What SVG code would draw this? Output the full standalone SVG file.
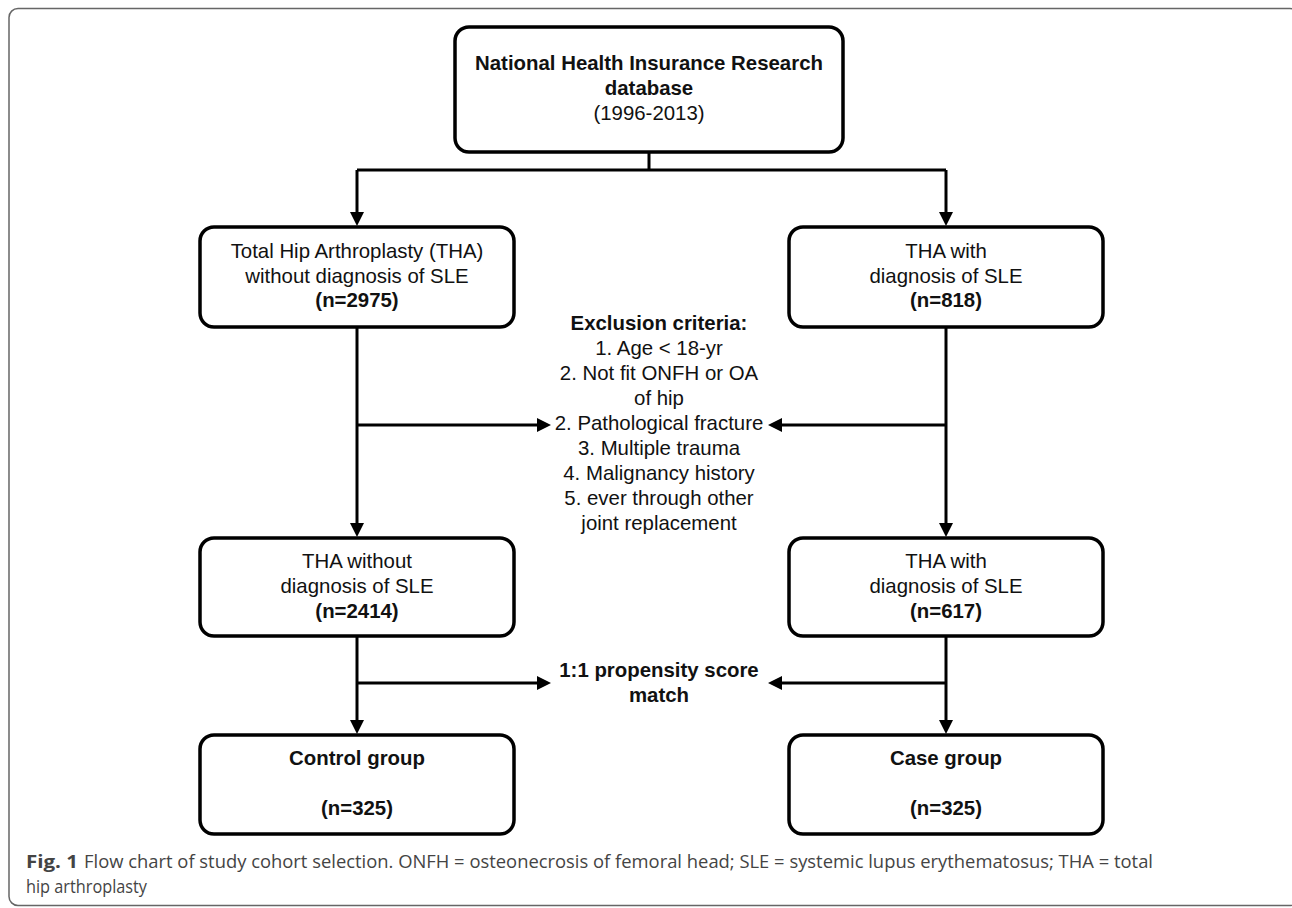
<svg xmlns="http://www.w3.org/2000/svg" width="1292" height="908" viewBox="0 0 1292 908">
<style>
.box{fill:#fff;stroke:#000;stroke-width:3.5}
.t{font-family:"Liberation Sans",Arial,sans-serif;font-size:20.4px;fill:#111;text-anchor:middle}
.b{font-weight:bold}
.con{fill:none;stroke:#000;stroke-width:3}
.cap{font-family:"Open Sans","Liberation Sans",sans-serif;font-size:18.5px;fill:#444}
</style>
<defs>
<marker id="ah" markerUnits="userSpaceOnUse" markerWidth="15" markerHeight="14" refX="0" refY="7" orient="auto">
<path d="M0,0 L14,7 L0,14 z" fill="#000"/>
</marker>
</defs>
<rect x="9" y="8.5" width="1290" height="897" rx="9" fill="none" stroke="#666" stroke-width="1.5"/>
<g id="connectors">
<path class="con" d="M649,152 V170 M357,170 H946"/>
<path class="con" d="M357,170 V212" marker-end="url(#ah)"/>
<path class="con" d="M946,170 V212" marker-end="url(#ah)"/>
<path class="con" d="M357,327 V523" marker-end="url(#ah)"/>
<path class="con" d="M946,327 V523" marker-end="url(#ah)"/>
<path class="con" d="M357,425 H537" marker-end="url(#ah)"/>
<path class="con" d="M946,425 H782" marker-end="url(#ah)"/>
<path class="con" d="M357,636 V720" marker-end="url(#ah)"/>
<path class="con" d="M946,636 V720" marker-end="url(#ah)"/>
<path class="con" d="M357,683 H537" marker-end="url(#ah)"/>
<path class="con" d="M946,683 H782" marker-end="url(#ah)"/>
</g>
<g id="nhird">
<rect class="box" x="455" y="27" width="388" height="125" rx="14"/>
<text class="t b" x="649" y="70">National Health Insurance Research</text>
<text class="t b" x="649" y="95">database</text>
<text class="t" x="649" y="120">(1996-2013)</text>
</g>
<g id="tha_no_sle">
<rect class="box" x="200" y="227" width="314" height="100" rx="14"/>
<text class="t" x="357" y="258">Total Hip Arthroplasty (THA)</text>
<text class="t" x="357" y="283">without diagnosis of SLE</text>
<text class="t b" x="357" y="307">(n=2975)</text>
</g>
<g id="tha_sle">
<rect class="box" x="789" y="227" width="314" height="100" rx="14"/>
<text class="t" x="946" y="258">THA with</text>
<text class="t" x="946" y="283">diagnosis of SLE</text>
<text class="t b" x="946" y="307">(n=818)</text>
</g>
<g id="exclusion">
<text class="t b" x="659" y="330">Exclusion criteria:</text>
<text class="t" x="659" y="355">1. Age &lt; 18-yr</text>
<text class="t" x="659" y="380">2. Not fit ONFH or OA</text>
<text class="t" x="659" y="405">of hip</text>
<text class="t" x="659" y="430">2. Pathological fracture</text>
<text class="t" x="659" y="455">3. Multiple trauma</text>
<text class="t" x="659" y="480">4. Malignancy history</text>
<text class="t" x="659" y="505">5. ever through other</text>
<text class="t" x="659" y="530">joint replacement</text>
</g>
<g id="tha_no_sle_2">
<rect class="box" x="200" y="538" width="314" height="98" rx="14"/>
<text class="t" x="357" y="568">THA without</text>
<text class="t" x="357" y="593">diagnosis of SLE</text>
<text class="t b" x="357" y="618">(n=2414)</text>
</g>
<g id="tha_sle_2">
<rect class="box" x="789" y="538" width="314" height="98" rx="14"/>
<text class="t" x="946" y="568">THA with</text>
<text class="t" x="946" y="593">diagnosis of SLE</text>
<text class="t b" x="946" y="618">(n=617)</text>
</g>
<g id="psm">
<text class="t b" x="659" y="677">1:1 propensity score</text>
<text class="t b" x="659" y="702">match</text>
</g>
<g id="control">
<rect class="box" x="200" y="735" width="314" height="99" rx="14"/>
<text class="t b" x="357" y="765">Control group</text>
<text class="t b" x="357" y="815">(n=325)</text>
</g>
<g id="case">
<rect class="box" x="789" y="735" width="314" height="99" rx="14"/>
<text class="t b" x="946" y="765">Case group</text>
<text class="t b" x="946" y="815">(n=325)</text>
</g>
<g id="caption">
<text class="cap" x="26" y="868" font-weight="bold" fill="#222" textLength="52" lengthAdjust="spacingAndGlyphs">Fig. 1</text>
<text class="cap" x="84" y="868" textLength="1069" lengthAdjust="spacingAndGlyphs">Flow chart of study cohort selection. ONFH = osteonecrosis of femoral head; SLE = systemic lupus erythematosus; THA = total</text>
<text class="cap" x="26" y="893" textLength="121" lengthAdjust="spacingAndGlyphs">hip arthroplasty</text>
</g>
</svg>
